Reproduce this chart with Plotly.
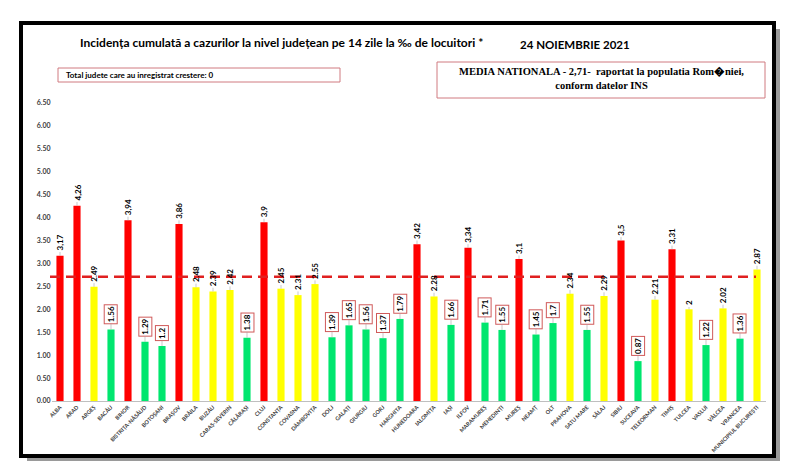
import plotly.graph_objects as go

# date: incidenta cumulata pe 14 zile la mia de locuitori, 24.11.2021
judete = ["ALBA", "ARAD", "ARGEȘ", "BACĂU", "BIHOR", "BISTRIȚA-NĂSĂUD", "BOTOȘANI",
          "BRAȘOV", "BRĂILA", "BUZĂU", "CARAȘ-SEVERIN", "CĂLĂRAȘI", "CLUJ", "CONSTANȚA",
          "COVASNA", "DÂMBOVIȚA", "DOLJ", "GALAȚI", "GIURGIU", "GORJ", "HARGHITA",
          "HUNEDOARA", "IALOMIȚA", "IAȘI", "ILFOV", "MARAMUREȘ", "MEHEDINȚI", "MUREȘ",
          "NEAMȚ", "OLT", "PRAHOVA", "SATU MARE", "SĂLAJ", "SIBIU", "SUCEAVA",
          "TELEORMAN", "TIMIȘ", "TULCEA", "VASLUI", "VÂLCEA", "VRANCEA",
          "MUNICIPIUL BUCUREȘTI"]
incidenta = [3.17, 4.26, 2.49, 1.56, 3.94, 1.29, 1.2, 3.86, 2.48, 2.39, 2.42, 1.38,
             3.9, 2.45, 2.31, 2.55, 1.39, 1.65, 1.56, 1.37, 1.79, 3.42, 2.28, 1.66,
             3.34, 1.71, 1.55, 3.1, 1.45, 1.7, 2.34, 1.55, 2.29, 3.5, 0.87, 2.21,
             3.31, 2, 1.22, 2.02, 1.36, 2.87]
media_nationala = 2.71
judete_crestere = 0

ROSU = "#FF0000"
GALBEN = "#FFFF00"
VERDE = "#00E66E"


def culoare(v):
    if v > 3:
        return ROSU
    if v >= 2:
        return GALBEN
    return VERDE


def px_x(p):
    return p / 800


def px_y(p):
    return 1 - p / 476


fig = go.Figure()
fig.add_trace(go.Bar(
    x=judete, y=incidenta,
    marker=dict(color=[culoare(v) for v in incidenta], line=dict(width=0)),
    width=0.42, hoverinfo="x+y"
))

# etichete valori (rotite)
adnotari = []
for j, v in zip(judete, incidenta):
    c = culoare(v)
    if c == ROSU:
        txt = str(v).replace(".", ",")
    else:
        txt = str(v)
    lung = len(txt) * 4.6 + (4 if c == VERDE else 0)
    a = dict(x=j, y=v, xref="x", yref="y", text="<b>" + txt + "</b>", textangle=-90,
             showarrow=True, arrowhead=0, arrowwidth=0.6, arrowcolor="#A6A6A6",
             ax=0, ay=-(4 + lung / 2), standoff=0,
             font=dict(family="Lato", size=8, color="#000000"))
    if c == VERDE:
        a.update(bordercolor="#D05A5A", borderwidth=1, borderpad=1, bgcolor="white")
    adnotari.append(a)

# titluri si casete
adnotari += [
    dict(x=px_x(281), y=px_y(42), xref="paper", yref="paper", showarrow=False,
         xanchor="center", yanchor="middle",
         text="<b>Incidența cumulată a cazurilor la nivel județean pe 14 zile la ‰ de locuitori *</b>",
         font=dict(family="Lato", size=12, color="#000000")),
    dict(x=px_x(575), y=px_y(44), xref="paper", yref="paper", showarrow=False,
         xanchor="center", yanchor="middle",
         text="<b>24 NOIEMBRIE 2021</b>",
         font=dict(family="Lato", size=11.5, color="#000000")),
    dict(x=px_x(64), y=px_y(75), xref="paper", yref="paper", showarrow=False,
         xanchor="left", yanchor="middle",
         text="<b>Total judete care au inregistrat crestere: " + str(judete_crestere) + "</b>",
         font=dict(family="Lato", size=8, color="#000000")),
    dict(x=px_x(601), y=px_y(79), xref="paper", yref="paper", showarrow=False,
         xanchor="center", yanchor="middle",
         text="<b>MEDIA NATIONALA - " + str(media_nationala).replace(".", ",")
              + "-  raportat la populatia Rom�niei,<br>conform datelor INS</b>",
         font=dict(family="Liberation Serif", size=10.5, color="#000000")),
]

forme = [
    # umbra cadru
    dict(type="rect", xref="paper", yref="paper", x0=px_x(27), x1=px_x(780),
         y0=px_y(461), y1=px_y(29), line=dict(width=0), fillcolor="#9A9A9A",
         layer="below"),
    dict(type="rect", xref="paper", yref="paper", x0=px_x(21), x1=px_x(774),
         y0=px_y(456), y1=px_y(23), line=dict(width=4, color="#000000"),
         fillcolor="white", layer="below"),
    dict(type="rect", xref="paper", yref="paper", x0=px_x(58), x1=px_x(340),
         y0=px_y(82), y1=px_y(68), line=dict(width=1, color="#D07A80")),
    dict(type="rect", xref="paper", yref="paper", x0=px_x(437), x1=px_x(765),
         y0=px_y(98), y1=px_y(62), line=dict(width=1, color="#D07A80")),
    # media nationala
    dict(type="line", xref="paper", yref="y", x0=px_x(50), x1=px_x(756),
         y0=media_nationala, y1=media_nationala,
         line=dict(color="#E02020", width=2.5, dash="10px,6px")),
]

fig.update_layout(
    width=800, height=476,
    margin=dict(l=0, r=0, t=0, b=0, pad=0),
    paper_bgcolor="white", plot_bgcolor="rgba(0,0,0,0)",
    showlegend=False,
    annotations=adnotari, shapes=forme,
    xaxis=dict(domain=[51.5 / 800, 765.5 / 800], tickangle=-45, automargin=False,
               tickfont=dict(family="Lato", size=5.5, color="#404040", weight="bold"),
               showline=True, linecolor="#BFBFBF", linewidth=1, ticks="",
               showgrid=False),
    yaxis=dict(domain=[px_y(401), px_y(103)], range=[0, 6.5], dtick=0.5,
               tickformat=".2f", showgrid=False, zeroline=False, automargin=False,
               tickfont=dict(family="Lato", size=7, color="#404040", weight="bold")),
)

# pagina fara marginea implicita a browserului
fig.write_html("out.html", config={"displayModeBar": False},
               post_script="document.body.style.margin='0px';")
